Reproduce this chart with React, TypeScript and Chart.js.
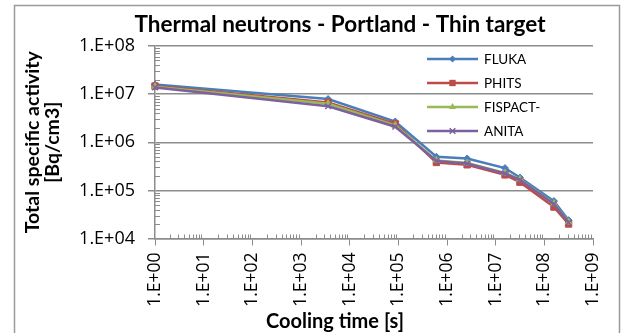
import React, { useEffect, useRef } from 'react';
import { Chart, registerables } from 'chart.js';

Chart.register(...registerables);

const TITLE = 'Thermal neutrons - Portland - Thin target';
const X_TITLE = 'Cooling time [s]';
const Y_TITLE = ['Total specific activity', '[Bq/cm3]'];

const COOLING_TIMES = [1, 3600, 86400, 604800, 2592000, 15552000, 31536000, 157680000, 315360000];
const FLUKA = [1.58e7, 7.9e6, 2.7e6, 5.0e5, 4.6e5, 2.9e5, 1.85e5, 6.0e4, 2.4e4];
const PHITS = [1.47e7, 6.7e6, 2.4e6, 3.8e5, 3.4e5, 2.1e5, 1.48e5, 4.5e4, 2.0e4];
const FISPACT = [1.43e7, 6.3e6, 2.25e6, 4.2e5, 3.7e5, 2.3e5, 1.7e5, 5.3e4, 2.2e4];
const ANITA = [1.38e7, 5.6e6, 2.1e6, 4.1e5, 3.6e5, 2.25e5, 1.65e5, 5.2e4, 2.15e4];

const SERIES_NAMES = ['FLUKA', 'PHITS', 'FISPACT-', 'ANITA'];
const SERIES_COLORS = ['#4A7EBB', '#BE4B48', '#98B954', '#7D60A0'];
const SERIES_MARKERS = ['rectRot', 'rect', 'triangle', 'crossRot'];
const SERIES_RADII = [3.5, 4.5, 4, 4];

const X_TICKS = [1e0, 1e1, 1e2, 1e3, 1e4, 1e5, 1e6, 1e7, 1e8, 1e9];
const X_TICK_LABELS = ['1.E+00', '1.E+01', '1.E+02', '1.E+03', '1.E+04', '1.E+05', '1.E+06', '1.E+07', '1.E+08', '1.E+09'];
const Y_TICKS = [1e4, 1e5, 1e6, 1e7, 1e8];
const Y_TICK_LABELS = ['1.E+04', '1.E+05', '1.E+06', '1.E+07', '1.E+08'];

const FONT = 'Lato, "Open Sans", "DejaVu Sans", sans-serif';
const NUM_FONT = '"Open Sans", Lato, "DejaVu Sans", sans-serif';
const AXIS_COLOR = '#8c8c8c';

function drawMarker(ctx: CanvasRenderingContext2D, style: string, x: number, y: number, r: number, color: string) {
  ctx.save();
  ctx.fillStyle = color;
  ctx.strokeStyle = color;
  ctx.lineWidth = 1.5;
  ctx.beginPath();
  if (style === 'rectRot') {
    ctx.moveTo(x, y - r);
    ctx.lineTo(x + r, y);
    ctx.lineTo(x, y + r);
    ctx.lineTo(x - r, y);
    ctx.closePath();
    ctx.fill();
  } else if (style === 'rect') {
    const s = r * Math.SQRT1_2;
    ctx.rect(x - s, y - s, 2 * s, 2 * s);
    ctx.fill();
  } else if (style === 'triangle') {
    ctx.moveTo(x, y - r);
    ctx.lineTo(x + r * 0.866, y + r * 0.5);
    ctx.lineTo(x - r * 0.866, y + r * 0.5);
    ctx.closePath();
    ctx.fill();
  } else {
    const d = r * Math.SQRT1_2;
    ctx.moveTo(x - d, y - d);
    ctx.lineTo(x + d, y + d);
    ctx.moveTo(x + d, y - d);
    ctx.lineTo(x - d, y + d);
    ctx.stroke();
  }
  ctx.restore();
}

const decorPlugin = {
  id: 'decor',
  afterDraw(chart: any) {
    const ctx: CanvasRenderingContext2D = chart.ctx;
    const xs = chart.scales.x;
    const ys = chart.scales.y;
    ctx.save();
    // outer border
    ctx.strokeStyle = '#9a9a9a';
    ctx.lineWidth = 1.5;
    ctx.strokeRect(14.5, 5.5, 605, 340);

    // minor ticks (inside the plot)
    ctx.strokeStyle = AXIS_COLOR;
    ctx.lineWidth = 1;
    for (let e = 4; e < 8; e++) {
      for (let k = 2; k < 10; k++) {
        const py = Math.round(ys.getPixelForValue(k * Math.pow(10, e))) + 0.5;
        ctx.beginPath();
        ctx.moveTo(xs.left, py);
        ctx.lineTo(xs.left + 5, py);
        ctx.stroke();
      }
    }
    for (let e = 0; e < 9; e++) {
      for (let k = 2; k < 10; k++) {
        const px = Math.round(xs.getPixelForValue(k * Math.pow(10, e))) + 0.5;
        ctx.beginPath();
        ctx.moveTo(px, ys.bottom);
        ctx.lineTo(px, ys.bottom - 4);
        ctx.stroke();
      }
    }

    // titles
    ctx.fillStyle = '#000';
    ctx.textAlign = 'center';
    ctx.textBaseline = 'middle';
    ctx.font = `bold 22.5px ${FONT}`;
    ctx.fillText(TITLE, 340, 25);
    ctx.font = `bold 20px ${FONT}`;
    ctx.fillText(X_TITLE, 335, 322);

    // legend
    const datasets = chart.data.datasets;
    ctx.font = `13.5px ${FONT}`;
    ctx.textAlign = 'left';
    datasets.forEach((ds: any, i: number) => {
      const y = 59 + 24 * i;
      ctx.strokeStyle = ds.borderColor;
      ctx.lineWidth = 2.5;
      ctx.beginPath();
      ctx.moveTo(427, y);
      ctx.lineTo(478, y);
      ctx.stroke();
      drawMarker(ctx, ds.pointStyle, 452.5, y, ds.pointRadius, ds.borderColor);
      ctx.fillStyle = '#000';
      ctx.fillText(ds.label, 484, y + 1);
    });
    ctx.restore();
  },
};

export default function App() {
  const canvasRef = useRef<HTMLCanvasElement | null>(null);

  useEffect(() => {
    document.body.style.margin = '0';
    const canvas = canvasRef.current;
    if (!canvas) return;
    const seriesValues = [FLUKA, PHITS, FISPACT, ANITA];
    const datasets = SERIES_NAMES.map((name, i) => ({
      label: name,
      data: COOLING_TIMES.map((t, j) => ({ x: t, y: seriesValues[i][j] })),
      borderColor: SERIES_COLORS[i],
      backgroundColor: SERIES_COLORS[i],
      pointBackgroundColor: SERIES_COLORS[i],
      pointBorderColor: SERIES_COLORS[i],
      pointStyle: SERIES_MARKERS[i],
      pointRadius: SERIES_RADII[i],
      pointBorderWidth: i === 3 ? 1.5 : 1,
      borderWidth: 2.5,
      tension: 0,
      clip: false,
      order: 4 - i,
    }));

    const chart = new Chart(canvas, {
      type: 'line',
      data: { datasets },
      plugins: [decorPlugin],
      options: {
        responsive: false,
        animation: false,
        devicePixelRatio: 1,
        layout: { padding: { left: 14, top: 46, right: 31, bottom: 0 } },
        plugins: {
          legend: { display: false },
          title: { display: false },
          tooltip: { enabled: false },
        },
        scales: {
          x: {
            type: 'logarithmic',
            position: 'bottom',
            min: 1,
            max: 1e9,
            afterBuildTicks: (scale: any) => {
              scale.ticks = X_TICKS.map((v) => ({ value: v, major: true }));
            },
            afterFit: (scale: any) => {
              scale.height = 94.5;
            },
            ticks: {
              autoSkip: false,
              minRotation: 90,
              maxRotation: 90,
              padding: 7,
              color: '#000',
              font: { family: NUM_FONT, size: 17.5 },
              callback: (value: any) => {
                const idx = X_TICKS.findIndex((t) => Math.abs(Math.log10(t) - Math.log10(Number(value))) < 1e-6);
                return idx >= 0 ? X_TICK_LABELS[idx] : '';
              },
            },
            grid: {
              drawOnChartArea: false,
              drawTicks: true,
              tickLength: 7,
              color: AXIS_COLOR,
              lineWidth: 1,
            },
            border: { display: true, color: AXIS_COLOR, width: 1.5 },
            title: { display: false },
          },
          y: {
            type: 'logarithmic',
            position: 'left',
            min: 1e4,
            max: 1e8,
            afterBuildTicks: (scale: any) => {
              scale.ticks = Y_TICKS.map((v) => ({ value: v, major: true }));
            },
            afterFit: (scale: any) => {
              scale.width = 141;
            },
            ticks: {
              padding: 13,
              color: '#000',
              font: { family: NUM_FONT, size: 18 },
              callback: (value: any) => {
                const idx = Y_TICKS.findIndex((t) => Math.abs(Math.log10(t) - Math.log10(Number(value))) < 1e-6);
                return idx >= 0 ? Y_TICK_LABELS[idx] : '';
              },
            },
            grid: {
              drawOnChartArea: true,
              drawTicks: true,
              tickLength: 7,
              color: AXIS_COLOR,
              lineWidth: 1.5,
            },
            border: { display: true, color: AXIS_COLOR, width: 1.5 },
            title: {
              display: true,
              text: Y_TITLE,
              color: '#000',
              font: { family: FONT, size: 19.5, weight: 'bold', lineHeight: 1.03 },
              padding: { top: 9, bottom: 0 },
            },
          },
        },
      },
    } as any);

    let alive = true;
    if ((document as any).fonts && (document as any).fonts.ready) {
      (document as any).fonts.ready.then(() => {
        if (alive) chart.update();
      });
    }
    return () => {
      alive = false;
      chart.destroy();
    };
  }, []);

  return (
    <div style={{ width: 624, height: 333, position: 'relative', background: '#fff' }}>
      <canvas ref={canvasRef} width={624} height={333} style={{ width: 624, height: 333, display: 'block' }} />
    </div>
  );
}
